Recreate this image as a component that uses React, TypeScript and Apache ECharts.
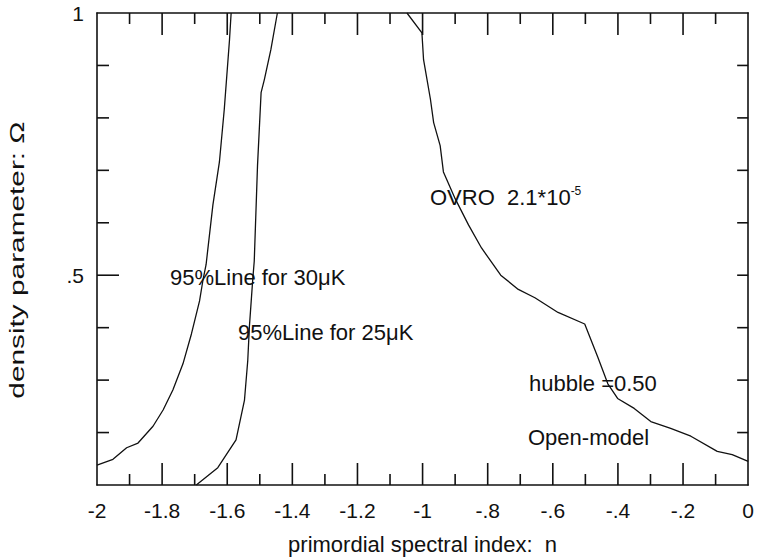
import React, { useEffect, useRef } from "react";
import * as echarts from "echarts";

// 95% line for 30 microK: [n, Omega]
const line30uK: [number, number][] = [
  [-2.0, 0.138], [-1.951, 0.149], [-1.909, 0.171], [-1.874, 0.18], [-1.828, 0.212],
  [-1.797, 0.243], [-1.767, 0.281], [-1.736, 0.331], [-1.71, 0.388], [-1.685, 0.451],
  [-1.675, 0.489], [-1.665, 0.52], [-1.644, 0.634], [-1.624, 0.716], [-1.609, 0.817],
  [-1.593, 0.949], [-1.588, 1.0],
];

// 95% line for 25 microK
const line25uK: [number, number][] = [
  [-1.695, 0.1], [-1.629, 0.133], [-1.573, 0.186], [-1.547, 0.262], [-1.537, 0.337],
  [-1.532, 0.401], [-1.522, 0.489], [-1.517, 0.527], [-1.507, 0.709], [-1.496, 0.848],
  [-1.486, 0.873], [-1.466, 0.93], [-1.446, 1.0],
];

// OVRO 2.1e-5 line
const lineOVRO: [number, number][] = [
  [-1.048, 1.0], [-1.002, 0.962], [-0.997, 0.911], [-0.976, 0.836], [-0.966, 0.791],
  [-0.946, 0.747], [-0.936, 0.697], [-0.9, 0.646], [-0.859, 0.596], [-0.819, 0.552],
  [-0.76, 0.5], [-0.706, 0.473], [-0.655, 0.457], [-0.584, 0.429], [-0.502, 0.407],
  [-0.462, 0.344], [-0.431, 0.293], [-0.401, 0.265], [-0.35, 0.246], [-0.299, 0.221],
  [-0.238, 0.208], [-0.176, 0.193], [-0.095, 0.164], [-0.049, 0.158], [0.0, 0.145],
];

const xTickValues = [-2, -1.8, -1.6, -1.4, -1.2, -1, -0.8, -0.6, -0.4, -0.2, 0];
const xTickLabels = ["-2", "-1.8", "-1.6", "-1.4", "-1.2", "-1", "-.8", "-.6", "-.4", "-.2", "0"];
const xMajorTicks = [-1.8, -1.6, -1.4, -1.2, -1, -0.8, -0.6, -0.4, -0.2];
const xMinorTicks = [-1.9, -1.7, -1.5, -1.3, -1.1, -0.9, -0.7, -0.5, -0.3, -0.1];
const yTickValues = [0.5, 1];
const yTickLabels = [".5", "1"];
const yMinorTicks = [0.2, 0.3, 0.4, 0.6, 0.7, 0.8, 0.9];
const yMajorTicks = [0.5];

const X_MIN = -2;
const X_MAX = 0;
const Y_MIN = 0.1;
const Y_MAX = 1;

const FONT = "Liberation Sans, Arial, Helvetica, sans-serif";
const INK = "#111";
const TICK_W = 1.6;

function labelFor(v: number, values: number[], labels: string[]) {
  const i = values.findIndex((t) => Math.abs(t - v) < 1e-6);
  return i >= 0 ? labels[i] : "";
}

const mkAxisLine = () => ({ show: true, onZero: false, lineStyle: { color: INK, width: 1.6 } });
const mkLineStyle = () => ({ color: INK, width: 1.3 });
const mkRect = (x: number, y: number, width: number, height: number) => ({
  type: "rect",
  shape: { x, y, width, height },
  style: { fill: INK },
});

export default function App() {
  const ref = useRef<HTMLDivElement>(null);
  useEffect(() => {
    if (!ref.current) return;
    const chart = echarts.init(ref.current, null, { renderer: "svg" });
    chart.setOption({
      animation: false,
      backgroundColor: "#fff",
      grid: { left: 97, right: 6, top: 13, bottom: 71 },
      xAxis: [
        {
          type: "value",
          min: X_MIN,
          max: X_MAX,
          interval: 0.2,
          position: "bottom",
          splitLine: { show: false },
          axisLine: mkAxisLine(),
          axisTick: { show: false },
          axisLabel: {
            fontFamily: FONT,
            color: INK,
            fontSize: 21,
            margin: 15,
            formatter: (v: number) => labelFor(v, xTickValues, xTickLabels),
          },
          name: "primordial spectral index:  n",
          nameLocation: "middle",
          nameGap: 48,
          nameTextStyle: { fontFamily: FONT, color: INK, fontSize: 22 },
        },
        {
          type: "value",
          min: X_MIN,
          max: X_MAX,
          interval: 0.2,
          position: "top",
          splitLine: { show: false },
          axisLine: mkAxisLine(),
          axisTick: { show: false },
          axisLabel: { show: false },
        },
      ],
      yAxis: [
        {
          type: "value",
          min: Y_MIN,
          max: Y_MAX,
          interval: 0.1,
          position: "left",
          splitLine: { show: false },
          axisLine: mkAxisLine(),
          axisTick: { show: false },
          axisLabel: {
            fontFamily: FONT,
            color: INK,
            fontSize: 21,
            margin: 13,
            formatter: (v: number) => labelFor(v, yTickValues, yTickLabels),
          },
        },
        {
          type: "value",
          min: Y_MIN,
          max: Y_MAX,
          interval: 0.1,
          position: "right",
          splitLine: { show: false },
          axisLine: mkAxisLine(),
          axisTick: { show: false },
          axisLabel: { show: false },
        },
      ],
      series: [
        { type: "line", name: "95%Line for 30μK", data: line30uK, showSymbol: false, lineStyle: mkLineStyle() },
        { type: "line", name: "95%Line for 25μK", data: line25uK, showSymbol: false, lineStyle: mkLineStyle() },
        { type: "line", name: "OVRO", data: lineOVRO, showSymbol: false, lineStyle: mkLineStyle() },
      ],
    });

    // Tick marks placed through the chart's own scales, drawn as thin rects
    const px = (x: number, y: number) => chart.convertToPixel({ gridIndex: 0 }, [x, y]) as number[];
    const ticks: any[] = [];
    const addX = (vals: number[], len: number) => {
      vals.forEach((v) => {
        const b = px(v, Y_MIN);
        const t = px(v, Y_MAX);
        ticks.push(mkRect(b[0] - TICK_W / 2, b[1] - len, TICK_W, len));
        ticks.push(mkRect(t[0] - TICK_W / 2, t[1], TICK_W, len));
      });
    };
    const addY = (vals: number[], leftLen: number, rightLen: number) => {
      vals.forEach((v) => {
        const l = px(X_MIN, v);
        const r = px(X_MAX, v);
        ticks.push(mkRect(l[0], l[1] - TICK_W / 2, leftLen, TICK_W));
        ticks.push(mkRect(r[0] - rightLen, r[1] - TICK_W / 2, rightLen, TICK_W));
      });
    };
    addX(xMajorTicks, 22);
    addX(xMinorTicks, 11);
    addY(yMinorTicks, 12, 11);
    addY(yMajorTicks, 22, 11);

    chart.setOption({
      graphic: [
        ...ticks,
        {
          type: "text",
          x: 17,
          y: 260,
          rotation: Math.PI / 2,
          scaleX: 1.42,
          style: {
            text: "density parameter: Ω",
            font: `21px ${FONT}`,
            fill: INK,
            align: "center",
            verticalAlign: "middle",
          },
        },
        {
          type: "text",
          x: 430,
          y: 197,
          style: {
            text: "{a|OVRO  2.1*10}{b|-5}",
            verticalAlign: "middle",
            rich: {
              a: { fontFamily: FONT, fontSize: 22, fill: INK },
              b: { fontFamily: FONT, fontSize: 12, fill: INK, padding: [0, 0, 12, 0] },
            },
          },
        },
        { type: "text", x: 170, y: 277, style: { text: "95%Line for 30μK", font: `22px ${FONT}`, fill: INK, verticalAlign: "middle" } },
        { type: "text", x: 238, y: 332, style: { text: "95%Line for 25μK", font: `22px ${FONT}`, fill: INK, verticalAlign: "middle" } },
        { type: "text", x: 529, y: 383, style: { text: "hubble =0.50", font: `22px ${FONT}`, fill: INK, verticalAlign: "middle" } },
        { type: "text", x: 528, y: 437, style: { text: "Open-model", font: `22px ${FONT}`, fill: INK, verticalAlign: "middle" } },
      ],
    });
    return () => chart.dispose();
  }, []);
  return <div ref={ref} style={{ position: "fixed", left: 0, top: 0, width: 757, height: 560 }} />;
}
